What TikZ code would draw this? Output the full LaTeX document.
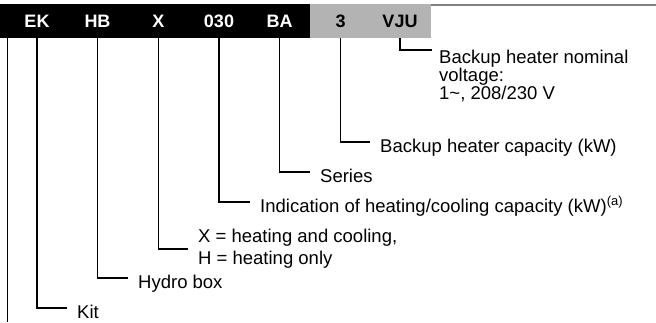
\documentclass[tikz,border=0pt]{standalone}
\usepackage{fontspec}
\setmainfont{Liberation Sans}
\usepackage{xcolor}
\usepackage{tikz}
\usetikzlibrary{positioning, calc}
\definecolor{bandgrey}{RGB}{179,179,179}
\definecolor{rulegrey}{RGB}{128,128,128}
\newcommand{\codefont}{\fontsize{18bp}{21bp}\selectfont\bfseries}
\newcommand{\descfont}{\fontsize{18.5bp}{22bp}\selectfont}

\begin{document}
\begin{tikzpicture}[x=1bp, y=-1bp,
  code/.style={font=\codefont, inner sep=0pt, minimum height=34bp,
               text height=13bp, text depth=0pt},
  desc/.style={font=\descfont, anchor=west, inner xsep=10bp, inner ysep=0pt},
  descline/.style={desc, text height=20bp, text depth=0pt},
  lead/.style={black, line width=1.5bp}]
  \useasboundingbox (0,0) rectangle (656,322);

  % header band: black part, grey part, thin rule to the right
  \fill[black] (0,4) rectangle (310,38);
  \fill[bandgrey] (310,4) rectangle (431,38);
  \draw[rulegrey, line width=1.5bp] (431,4.75) -- (656,4.75);
  % left frame line
  \draw[black, line width=0.8bp] (7.5,38) -- (7.5,322);

  % code letters in the band
  \foreach \n/\x/\t in {ek/37/EK, hb/97.5/HB, x/158.5/X, cap/219/030, ba/279.5/BA} {
    \node[code, text=white] (c\n) at (\x,21) {\t};
  }
  \foreach \n/\x/\t in {bu/340.5/3, vj/400/VJU} {
    \node[code, text=black] (c\n) at (\x,21) {\t};
  }

  % descriptions
  \node[descline] (dek) at (67,308) {Kit};
  \node[descline] (dhb) at (128,278) {Hydro box};
  \node[desc, align=left, font=\fontsize{18.5bp}{22.3bp}\selectfont]
    (dx) at (188,249) {X = heating and cooling,\\H = heating only};
  \node[descline] (dcap) at (250,202) {Indication of heating/cooling capacity (kW)\textsuperscript{(a)}};
  \node[descline] (dba) at (310,172) {Series};
  \node[descline] (dbu) at (370,142) {Backup heater capacity (kW)};
  \node[desc, anchor=north west, inner xsep=7bp, align=left,
        font=\fontsize{18.5bp}{17.8bp}\selectfont]
    (dvj) at (432,50) {Backup heater nominal\\voltage:\\1\textasciitilde, 208/230 V};

  % leaders from code to description
  \foreach \n in {ek, hb, x, cap, ba, bu} {
    \draw[lead] (c\n.south) |- (d\n.west);
  }
  \draw[lead] (cvj.south) |- (dvj.north west);
\end{tikzpicture}
\end{document}
